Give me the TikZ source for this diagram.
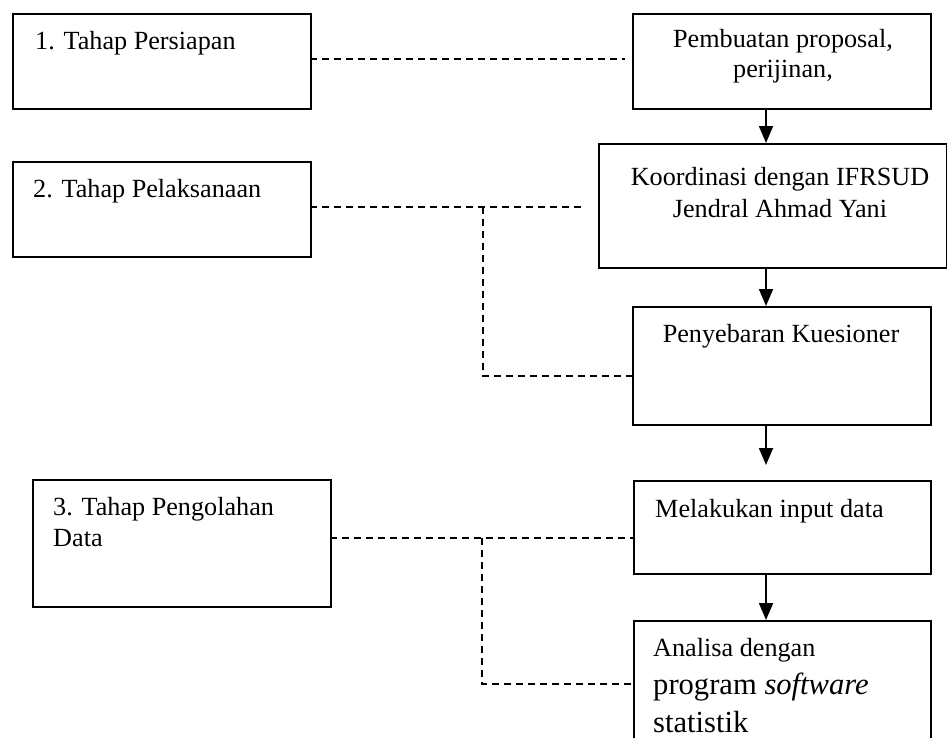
\documentclass[tikz,border=0pt]{standalone}
\usepackage{fontspec}
\setmainfont{Liberation Serif}
\usetikzlibrary{arrows.meta}
\begin{document}
\begin{tikzpicture}[x=1pt,y=-1pt,
  box/.style={draw, line width=2pt, rectangle, inner sep=0pt, anchor=north west},
  txt/.style={inner sep=0pt, font=\fontsize{26.2}{31}\selectfont},
  big/.style={inner sep=0pt, font=\fontsize{30.6}{36}\selectfont},
  arr/.style={line width=1.8pt, -{Triangle[width=14pt,length=17pt]}},
  dsh/.style={line width=1.6pt, dash pattern=on 7pt off 5pt}]
\clip (0,0) rectangle (947,737);
\fill[white] (0,0) rectangle (947,737);
% left boxes
\node[box, minimum width=298pt, minimum height=95pt] (L1) at (12,13) {};
\node[box, minimum width=298pt, minimum height=95pt] (L2) at (12,161) {};
\node[box, minimum width=298pt, minimum height=127pt] (L3) at (32,479) {};
% right boxes
\node[box, minimum width=298pt, minimum height=95pt] (R1) at (632,13) {};
\node[box, minimum width=348pt, minimum height=124pt] (R2) at (598,143) {};
\node[box, minimum width=298pt, minimum height=118pt] (R3) at (632,306) {};
\node[box, minimum width=297pt, minimum height=93pt] (R4) at (633,480) {};
\node[box, minimum width=297pt, minimum height=140pt] (R5) at (633,620) {};
% texts
\node[txt, anchor=base west] (t1) at (35,49) {1. Tahap Persiapan};
\node[txt, anchor=base west] (t2) at (33,197) {2. Tahap Pelaksanaan};
\node[txt, anchor=base west] (t3a) at (53,515) {3. Tahap Pengolahan};
\node[txt, anchor=base west] (t3b) at (53,546) {Data};
\node[txt, anchor=base] (r1a) at (783,47) {Pembuatan proposal,};
\node[txt, anchor=base] (r1b) at (783,77) {perijinan,};
\node[txt, anchor=base] (r2a) at (780,185) {Koordinasi dengan IFRSUD};
\node[txt, anchor=base] (r2b) at (780,217) {Jendral Ahmad Yani};
\node[txt, anchor=base] (r3) at (781,342) {Penyebaran Kuesioner};
\node[txt, anchor=base west] (r4) at (655,517) {Melakukan input data};
\node[txt, anchor=base west] (r5a) at (653,656) {Analisa dengan};
\node[big, anchor=base west] (r5b) at (653,694) {program \textit{software}};
\node[big, anchor=base west] (r5c) at (653,732) {statistik};
% arrows
\coordinate (ax) at (766,0);
\draw[arr] (R1.south -| ax) -- (R2.north -| ax);
\draw[arr] (R2.south -| ax) -- (R3.north -| ax);
\draw[arr, shorten >=15pt] (R3.south -| ax) -- (R4.north -| ax);
\draw[arr] (R4.south -| ax) -- (R5.north -| ax);
% dashed connectors
\coordinate (d1s) at (310,59);
\coordinate (d1e) at (625,59);
\draw[dsh] (d1s) -- (d1e);
\coordinate (d2s) at (310,207);
\coordinate (d2e) at (583,207);
\coordinate (d2k) at (483,207);
\coordinate (d2b) at (483,376);
\draw[dsh] (d2s) -- (d2e);
\draw[dsh] (d2k) -- (d2b) -- (R3.west |- d2b);
\coordinate (d3s) at (330,538);
\coordinate (d3k) at (482,538);
\coordinate (d3b) at (482,684);
\draw[dsh] (d3s) -- (R4.west |- d3s);
\draw[dsh] (d3k) -- (d3b) -- (R5.west |- d3b);
\end{tikzpicture}
\end{document}
